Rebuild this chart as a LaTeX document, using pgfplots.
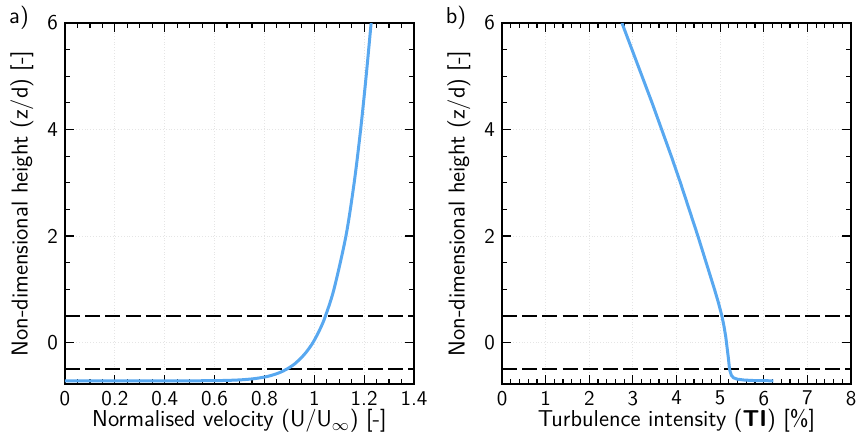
\documentclass[border=0pt]{standalone}
\usepackage{pgfplots}
\pgfplotsset{compat=1.18}
\definecolor{curveblue}{RGB}{88,168,240}
\begin{document}
\sffamily
\begin{tikzpicture}
\useasboundingbox (-32.5pt,-27.5pt) rectangle (395.5pt,192pt);
\pgfplotsset{
 myax/.style={
  width=174.5pt, height=180.5pt, scale only axis,
  axis line style={line width=1pt},
  every tick/.style={black, line width=0.6pt},
  major tick length=4.5pt, minor tick length=2.5pt,
  tick align=inside,
  ymin=-0.78, ymax=6, ytick={0,2,4,6}, minor y tick num=3,
  grid=major, major grid style={densely dotted, black!10},
  tick label style={font=\sffamily\fontsize{10.5}{12}\selectfont},
  /pgf/number format/assume math mode=true,
  label style={font=\sffamily\fontsize{11.5}{13}\selectfont},
  ylabel={Non-dimensional height (z/d) [-]},
  ylabel style={at={(axis description cs:0,0.5)}, anchor=center, yshift=21.5pt},
  xlabel style={at={(axis description cs:0.5,0)}, anchor=center, yshift=-18.5pt},
 },
 dashline/.style={black, line width=0.75pt, dash pattern=on 7.5pt off 2.6pt},
 curve/.style={curveblue, line width=1.5pt, smooth}
}
\begin{axis}[myax, at={(0pt,0pt)}, anchor=south west,
  xmin=0, xmax=1.4, xtick={0,0.2,...,1.4}, minor x tick num=3,
  xticklabels={0,0.2,0.4,0.6,0.8,1,1.2,1.4},
  xlabel={Normalised velocity (U/U$_\infty$) [-]}]
\addplot[dashline] coordinates {(0,0.5) (1.4,0.5)};
\addplot[dashline] coordinates {(0,-0.5) (1.4,-0.5)};
\addplot[curve] coordinates {
(0,-0.72) (0.25,-0.7199) (0.503,-0.7195) (0.573,-0.718) (0.624,-0.715) (0.666,-0.71)
(0.711,-0.70) (0.759,-0.68) (0.800,-0.65) (0.827,-0.62) (0.859,-0.57) (0.890,-0.5)
(0.922,-0.4) (0.961,-0.22) (0.995,0) (1.026,0.28) (1.045,0.5) (1.079,1.0)
(1.127,2) (1.160,3) (1.186,4) (1.208,5) (1.228,6)};
\end{axis}
\node[font=\sffamily\fontsize{11.5}{13}\selectfont] at (-23pt,183.3pt) {a)};
\begin{axis}[myax, at={(218.5pt,0pt)}, anchor=south west,
  xmin=0, xmax=8, xtick={0,1,...,8}, minor x tick num=4,
  xlabel={Turbulence intensity (\textbf{TI}) [\%]}]
\addplot[dashline] coordinates {(0,0.5) (8,0.5)};
\addplot[dashline] coordinates {(0,-0.5) (8,-0.5)};
\addplot[curveblue, line width=1.5pt] coordinates {
(6.22,-0.72) (5.8,-0.716) (5.55,-0.706) (5.4,-0.69) (5.31,-0.665) (5.26,-0.62)
(5.235,-0.56) (5.215,-0.5) (5.19,-0.3) (5.16,-0.1) (5.13,0.1) (5.09,0.3) (5.04,0.5)
(4.96,0.75) (4.87,1) (4.68,1.5) (4.49,2) (4.29,2.5) (4.09,3) (3.88,3.5) (3.66,4)
(3.44,4.5) (3.21,5) (2.98,5.5) (2.75,6)};
\end{axis}
\node[font=\sffamily\fontsize{11.5}{13}\selectfont] at (195.5pt,183.3pt) {b)};
\end{tikzpicture}
\end{document}
